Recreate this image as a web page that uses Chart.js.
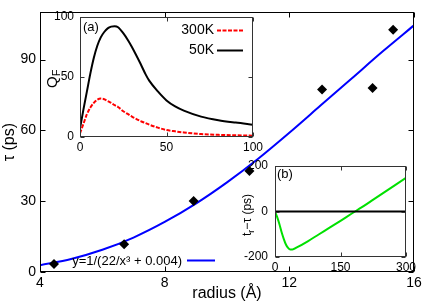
<!DOCTYPE html>
<html>
<head>
<meta charset="utf-8">
<script src="https://cdn.jsdelivr.net/npm/chart.js@4"></script>
<style>
  html, body { margin: 0; padding: 0; background: #fff; }
  #wrap { position: relative; width: 436px; height: 306px; overflow: hidden; }
  canvas { position: absolute; }
  #main  { left: 0;     top: 0;     }
  #insA  { left: 40px;  top: 0;     }
  #insB  { left: 230px; top: 150px; }
</style>
</head>
<body>
<div id="wrap">
  <canvas id="main" width="436" height="306"></canvas>
  <canvas id="insA" width="230" height="160"></canvas>
  <canvas id="insB" width="206" height="126"></canvas>
</div>
<script>
// ── datos ────────────────────────────────────────────────────────────────
// main: tau vs radius
const radiusPts = [4.45, 6.7, 8.93, 10.72, 13.05, 14.67, 15.33];
const tauPts    = [3.4, 11.8, 30.1, 42.8, 77.3, 78.0, 102.7];
const fitX      = [4, 5, 6, 7, 8, 9, 10, 11, 12, 13, 14, 15, 16];
const fitY      = [2.9, 5.5, 9.4, 14.6, 21.2, 29, 38, 48, 59, 70.5, 82, 93.5, 104.5];
const xTicksMain = [4, 8, 12, 16];
const yTicksMain = [0, 30, 60, 90];

// inset (a): Q_F
const qfX   = [0, 2, 4, 6, 8, 10, 12, 14, 16, 18, 20, 22, 25, 28, 30, 35, 38, 40, 45, 50, 55, 60, 70, 80, 90, 100];
const q300K = [3, 11, 19, 24.5, 28.5, 31, 32, 31.5, 30, 28.5, 26.5, 25, 21.5, 18.8, 17, 13.3, 11.5, 10.3, 7.8, 5.8, 4.7, 3.8, 2.4, 1.8, 1.4, 1.1];
const q50K  = [7, 23, 38, 53, 66, 76, 83, 87.5, 90.5, 92, 92.3, 91.5, 86.5, 80, 75, 61, 52, 47, 38, 30.5, 25.5, 22, 17, 14, 12, 10.3];

// inset (b): t_r - tau
const diffX = [0, 5, 10, 15, 20, 25, 30, 35, 40, 50, 75, 100, 125, 150, 175, 200, 225, 250, 275, 300];
const diffY = [0, -25, -55, -90, -120, -145, -160, -167, -167, -158, -131, -101, -71, -41, -10, 20, 52, 84, 116, 148];
const zeroX = [0, 300];
const zeroY = [0, 0];

const FONT = "'Liberation Sans', Arial, Helvetica, sans-serif";
Chart.defaults.font.family = FONT;
Chart.defaults.color = '#000';

const pts = (xs, ys) => xs.map((x, i) => ({ x, y: ys[i] }));

// marco + ticks hacia dentro en los cuatro lados
const frameTicks = {
  id: 'frameTicks',
  beforeDatasetsDraw(chart, args, opts) {
    if (!opts.fill) return;
    const a = chart.chartArea, ctx = chart.ctx;
    ctx.save();
    ctx.fillStyle = '#fff';
    ctx.fillRect(a.left, a.top, a.right - a.left, a.bottom - a.top);
    ctx.restore();
  },
  afterDatasetsDraw(chart, args, opts) {
    const { ctx, chartArea: a, scales: { x, y } } = chart;
    const len = opts.len || 4;
    const L = Math.round(a.left) + 0.5, R = Math.round(a.right) - 0.5;
    const T = Math.round(a.top) + 0.5,  B = Math.round(a.bottom) - 0.5;
    ctx.save();
    ctx.strokeStyle = opts.color || '#000';
    ctx.lineWidth = 1;
    ctx.beginPath();
    x.ticks.forEach(t => {
      const px = Math.round(x.getPixelForValue(t.value)) + 0.5;
      ctx.moveTo(px, B); ctx.lineTo(px, B - len);
      ctx.moveTo(px, T); ctx.lineTo(px, T + len);
    });
    y.ticks.forEach(t => {
      const py = Math.round(y.getPixelForValue(t.value)) + 0.5;
      ctx.moveTo(L, py); ctx.lineTo(L + len, py);
      ctx.moveTo(R, py); ctx.lineTo(R - len, py);
    });
    ctx.stroke();
    ctx.strokeRect(L, T, R - L, B - T);
    ctx.restore();
  }
};

const fixTicks = vals => scale => { scale.ticks = vals.map(v => ({ value: v })); };

// ── gráfico principal ────────────────────────────────────────────────────
new Chart(document.getElementById('main'), {
  type: 'scatter',
  data: {
    datasets: [
      {
        data: pts(radiusPts, tauPts),
        pointStyle: 'rectRot', pointRadius: 5,
        backgroundColor: '#000', borderColor: '#000', borderWidth: 0,
        order: 0
      },
      {
        type: 'line',
        data: pts(fitX, fitY),
        borderColor: '#0000ff', borderWidth: 2,
        pointRadius: 0, cubicInterpolationMode: 'monotone',
        fill: false, order: 1
      }
    ]
  },
  options: {
    responsive: false, animation: false, devicePixelRatio: 1,
    layout: { padding: { top: 11, right: 22, left: 0, bottom: 0 } },
    plugins: {
      legend: { display: false }, tooltip: { enabled: false },
      frameTicks: { len: 5 }
    },
    scales: {
      x: {
        type: 'linear', min: 4, max: 16,
        afterBuildTicks: fixTicks(xTicksMain),
        afterFit: s => { s.height = 34; },
        grid: { display: false, drawTicks: false }, border: { display: false },
        ticks: { font: { size: 14 }, padding: 3, maxRotation: 0 },
        title: { display: true, text: 'radius (Å)', font: { size: 16 }, padding: { top: 0, bottom: 3 } }
      },
      y: {
        type: 'linear', min: 0, max: 110,
        afterBuildTicks: fixTicks(yTicksMain),
        afterFit: s => { s.width = 40; },
        grid: { display: false, drawTicks: false }, border: { display: false },
        ticks: { font: { size: 14 }, padding: 4 },
        title: { display: true, text: 'τ (ps)', font: { size: 16 }, padding: 0 }
      }
    }
  },
  plugins: [frameTicks, {
    id: 'fitKey',
    afterDraw(chart) {
      const ctx = chart.ctx;
      ctx.save();
      ctx.font = '13px ' + FONT;
      ctx.fillStyle = '#000';
      ctx.textAlign = 'right';
      ctx.textBaseline = 'middle';
      ctx.fillText('y=1/(22/x³ + 0.004)', 182, 261);
      ctx.strokeStyle = '#0000ff';
      ctx.lineWidth = 2;
      ctx.beginPath();
      ctx.moveTo(187, 260.5); ctx.lineTo(215, 260.5);
      ctx.stroke();
      ctx.restore();
    }
  }]
});

// ── inset (a) ────────────────────────────────────────────────────────────
new Chart(document.getElementById('insA'), {
  type: 'line',
  data: {
    datasets: [
      {
        data: pts(qfX, q300K),
        borderColor: '#ff0000', borderWidth: 2, borderDash: [4, 1.5],
        pointRadius: 0, cubicInterpolationMode: 'monotone'
      },
      {
        data: pts(qfX, q50K),
        borderColor: '#000', borderWidth: 2,
        pointRadius: 0, cubicInterpolationMode: 'monotone'
      }
    ]
  },
  options: {
    responsive: false, animation: false, devicePixelRatio: 1,
    layout: { padding: { top: 17, right: 17, left: 0, bottom: 0 } },
    plugins: {
      legend: { display: false }, tooltip: { enabled: false },
      frameTicks: { len: 4, fill: true, color: '#333' }
    },
    scales: {
      x: {
        type: 'linear', min: 0, max: 100,
        afterBuildTicks: fixTicks([0, 50, 100]),
        afterFit: s => { s.height = 23; },
        grid: { display: false, drawTicks: false }, border: { display: false },
        ticks: { font: { size: 12 }, padding: 3, maxRotation: 0 }
      },
      y: {
        type: 'linear', min: 0, max: 100,
        afterBuildTicks: fixTicks([0, 50, 100]),
        afterFit: s => { s.width = 40; },
        grid: { display: false, drawTicks: false }, border: { display: false },
        ticks: { font: { size: 12 }, padding: 6 }
      }
    }
  },
  plugins: [frameTicks, {
    id: 'insAText',
    afterDraw(chart) {
      const ctx = chart.ctx;
      ctx.save();
      ctx.fillStyle = '#000';
      ctx.textBaseline = 'middle';
      ctx.font = '13px ' + FONT;
      ctx.textAlign = 'left';
      ctx.fillText('(a)', 43, 27);
      ctx.font = '14px ' + FONT;
      ctx.textAlign = 'right';
      ctx.fillText('300K', 174, 30);
      ctx.fillText('50K', 174, 50);
      ctx.lineWidth = 2;
      ctx.strokeStyle = '#ff0000';
      ctx.setLineDash([4, 1.5]);
      ctx.beginPath(); ctx.moveTo(177, 30.5); ctx.lineTo(203, 30.5); ctx.stroke();
      ctx.setLineDash([]);
      ctx.strokeStyle = '#000';
      ctx.beginPath(); ctx.moveTo(177, 50.5); ctx.lineTo(203, 50.5); ctx.stroke();
      // Q_F, rotado
      ctx.translate(12, 88);
      ctx.rotate(-Math.PI / 2);
      ctx.textAlign = 'left';
      ctx.textBaseline = 'alphabetic';
      ctx.font = '15px ' + FONT;
      ctx.fillText('Q', 0, 5);
      const w = ctx.measureText('Q').width;
      ctx.font = '11px ' + FONT;
      ctx.fillText('F', w, 8);
      ctx.restore();
    }
  }]
});

// ── inset (b) ────────────────────────────────────────────────────────────
new Chart(document.getElementById('insB'), {
  type: 'line',
  data: {
    datasets: [
      {
        data: pts(zeroX, zeroY),
        borderColor: '#000', borderWidth: 2, pointRadius: 0
      },
      {
        data: pts(diffX, diffY),
        borderColor: '#00e000', borderWidth: 2,
        pointRadius: 0, cubicInterpolationMode: 'monotone'
      }
    ]
  },
  options: {
    responsive: false, animation: false, devicePixelRatio: 1,
    layout: { padding: { top: 16, right: 30, left: 0, bottom: 0 } },
    plugins: {
      legend: { display: false }, tooltip: { enabled: false },
      frameTicks: { len: 4, fill: true, color: '#333' }
    },
    scales: {
      x: {
        type: 'linear', min: 0, max: 300,
        afterBuildTicks: fixTicks([0, 150, 300]),
        afterFit: s => { s.height = 19; },
        grid: { display: false, drawTicks: false }, border: { display: false },
        ticks: { font: { size: 12 }, padding: 3, maxRotation: 0 }
      },
      y: {
        type: 'linear', min: -200, max: 200,
        afterBuildTicks: fixTicks([-200, 0, 200]),
        afterFit: s => { s.width = 45; },
        grid: { display: false, drawTicks: false }, border: { display: false },
        ticks: { font: { size: 12 }, padding: 7 }
      }
    }
  },
  plugins: [frameTicks, {
    id: 'insBText',
    afterDraw(chart) {
      const ctx = chart.ctx;
      ctx.save();
      ctx.fillStyle = '#000';
      ctx.textBaseline = 'middle';
      ctx.font = '13px ' + FONT;
      ctx.textAlign = 'left';
      ctx.fillText('(b)', 47, 24);
      // t_r − τ (ps), rotado
      ctx.translate(21, 86);
      ctx.rotate(-Math.PI / 2);
      ctx.textBaseline = 'alphabetic';
      ctx.font = '12px ' + FONT;
      ctx.fillText('t', 0, 0);
      let w = ctx.measureText('t').width;
      ctx.font = '9px ' + FONT;
      ctx.fillText('r', w, 3);
      w += ctx.measureText('r').width;
      ctx.font = '12px ' + FONT;
      ctx.fillText('−τ (ps)', w, 0);
      ctx.restore();
    }
  }]
});
</script>
</body>
</html>
